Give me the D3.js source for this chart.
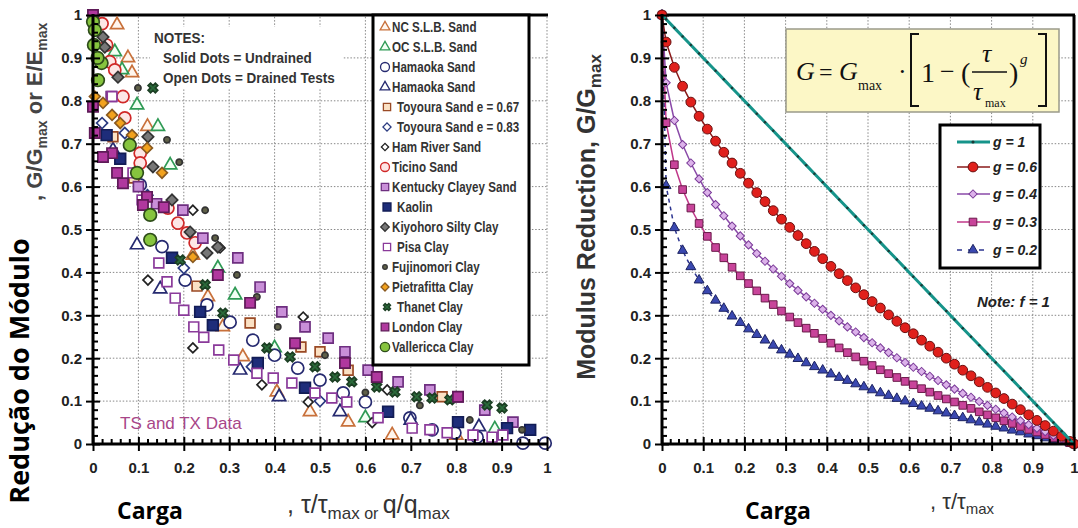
<!DOCTYPE html>
<html><head><meta charset="utf-8">
<script src="https://cdn.jsdelivr.net/npm/d3@7"></script>
<style>body{margin:0;background:#fff}</style>
</head><body>
<svg id="c" width="1078" height="528"></svg>
<script>
// ---------- DATA ----------
const majorTicks = [0,0.1,0.2,0.3,0.4,0.5,0.6,0.7,0.8,0.9,1];
const tickLabels = ["0","0.1","0.2","0.3","0.4","0.5","0.6","0.7","0.8","0.9","1"];
const minorTicks = [0.02,0.04,0.06,0.08,0.12,0.14,0.16,0.18,0.22,0.24,0.26,0.28,0.32,0.34,0.36,0.38,0.42,0.44,0.46,0.48,0.52,0.54,0.56,0.58,0.62,0.64,0.66,0.68,0.72,0.74,0.76,0.78,0.82,0.84,0.86,0.88,0.92,0.94,0.96,0.98];

// Left chart series: [x, y] pairs
const ncSLBSand = [[0.053,0.977],[0.077,0.90],[0.086,0.865],[0.12,0.74],[0.22,0.44],[0.253,0.343],[0.286,0.273],[0.33,0.203],[0.405,0.121],[0.478,0.075],[0.562,0.051],[0.659,0.021],[0.80,0.02]];
const ocSLBSand = [[0.048,0.914],[0.064,0.872],[0.097,0.79],[0.143,0.74],[0.17,0.65],[0.275,0.41],[0.313,0.347],[0.40,0.224],[0.60,0.061],[0.885,0.035]];
const hamaokaCircle = [[0.152,0.46],[0.203,0.382],[0.251,0.324],[0.302,0.284],[0.352,0.242],[0.40,0.207],[0.451,0.177],[0.50,0.149],[0.551,0.119],[0.60,0.098],[0.698,0.061],[0.747,0.033],[0.797,0.026],[0.846,0.016],[0.947,0.002],[0.996,0.002],[0.104,0.604]];
const hamaokaTriangle = [[0.097,0.464],[0.148,0.361],[0.324,0.172],[0.41,0.11],[0.544,0.075],[0.044,0.685],[0.70,0.055],[0.85,0.04]];
const toyoura067 = [[0.229,0.368],[0.346,0.282],[0.458,0.226],[0.562,0.172],[0.044,0.716],[0.09,0.62],[0.769,0.11],[0.50,0.215]];
const toyoura083 = [[0.02,0.748],[0.07,0.725],[0.12,0.58],[0.2,0.41],[0.35,0.18],[0.50,0.10]];
const hamRiver = [[0.121,0.382],[0.22,0.224],[0.28,0.457],[0.22,0.545],[0.372,0.138],[0.463,0.296],[0.474,0.098],[0.615,0.05],[0.648,0.126]];
const ticino = [[0.165,0.55],[0.187,0.515],[0.207,0.492],[0.225,0.469],[0.037,0.891],[0.048,0.872],[0.066,0.81],[0.07,0.76],[0.104,0.678],[0.104,0.655],[0.02,0.98],[0.03,0.93]];
const kentucky = [[0.198,0.545],[0.242,0.48],[0.319,0.434],[0.368,0.366],[0.416,0.308],[0.467,0.273],[0.518,0.247],[0.555,0.215],[0.606,0.172],[0.672,0.145],[0.742,0.126],[0.804,0.11],[0.863,0.079],[0.925,0.051],[0.04,0.81],[0.10,0.6],[0.14,0.56]];
const kaolin = [[0.174,0.434],[0.236,0.308],[0.264,0.277],[0.363,0.189],[0.467,0.131],[0.65,0.075],[0.804,0.051],[0.912,0.037],[0.963,0.033],[0.03,0.72],[0.06,0.665]];
const kiyohoro = [[0.214,0.494],[0.251,0.445],[0.275,0.459],[0.022,0.949],[0.026,0.925],[0.055,0.855],[0.121,0.716],[0.132,0.646],[0.174,0.569]];
const pisa = [[0.145,0.422],[0.163,0.378],[0.181,0.34],[0.20,0.312],[0.222,0.273],[0.244,0.249],[0.277,0.219],[0.31,0.196],[0.361,0.165],[0.397,0.154],[0.438,0.142],[0.489,0.119],[0.526,0.107],[0.559,0.098],[0.628,0.061],[0.703,0.037],[0.742,0.033],[0.78,0.026],[0.837,0.021],[0.879,0.016],[0.903,0.021],[0.042,0.81],[0.088,0.632],[0.108,0.569]];
const fujinomori = [[0.099,0.83],[0.163,0.709],[0.19,0.657],[0.247,0.545],[0.269,0.48],[0.317,0.394],[0.361,0.343],[0.407,0.273],[0.511,0.207],[0.60,0.12],[0.72,0.09],[0.83,0.056],[0.945,0.033]];
const pietrafitta = [[0.004,0.81],[0.022,0.795],[0.042,0.767],[0.06,0.748],[0.086,0.72],[0.119,0.69],[0.152,0.632],[0.22,0.436]];
const thanet = [[0.192,0.429],[0.247,0.371],[0.286,0.305],[0.383,0.224],[0.434,0.203],[0.489,0.18],[0.533,0.156],[0.57,0.145],[0.625,0.133],[0.665,0.121],[0.713,0.11],[0.747,0.107],[0.786,0.103],[0.868,0.091],[0.901,0.084],[0.132,0.83]];
const londonClay = [[0.156,0.552],[0.275,0.394],[0.346,0.329],[0.445,0.235],[0.555,0.189],[0.625,0.156],[0.0,1.0],[0.0,0.786],[0.004,0.725],[0.042,0.678],[0.022,0.669],[0.053,0.632],[0.066,0.608],[0.119,0.576],[0.11,0.557],[0.804,0.11]];
const vallericca = [[0.0,0.984],[0.004,0.965],[0.002,0.93],[0.019,0.888],[0.011,0.848],[0.081,0.697],[0.097,0.632],[0.126,0.534],[0.126,0.476],[0.01,0.9]];

const legendNames = ["NC S.L.B. Sand","OC S.L.B. Sand","Hamaoka Sand","Hamaoka Sand","Toyoura Sand e = 0.67","Toyoura Sand e = 0.83","Ham River Sand","Ticino Sand","Kentucky Clayey Sand","Kaolin","Kiyohoro Silty Clay","Pisa Clay","Fujinomori Clay","Pietrafitta Clay","Thanet Clay","London Clay","Vallericca Clay"];

// Right chart: normalized stress tau/tau_max and G/Gmax for each g
const tauRatio = [0,0.01,0.03,0.05,0.07,0.09,0.11,0.13,0.15,0.17,0.19,0.21,0.23,0.25,0.27,0.29,0.31,0.33,0.35,0.37,0.39,0.41,0.43,0.45,0.47,0.49,0.51,0.53,0.55,0.57,0.59,0.61,0.63,0.65,0.67,0.69,0.71,0.73,0.75,0.77,0.79,0.81,0.83,0.85,0.87,0.89,0.91,0.93,0.95,0.97,0.99,1];
const gEq1 = [1,0.99,0.97,0.95,0.93,0.91,0.89,0.87,0.85,0.83,0.81,0.79,0.77,0.75,0.73,0.71,0.69,0.67,0.65,0.63,0.61,0.59,0.57,0.55,0.53,0.51,0.49,0.47,0.45,0.43,0.41,0.39,0.37,0.35,0.33,0.31,0.29,0.27,0.25,0.23,0.21,0.19,0.17,0.15,0.13,0.11,0.09,0.07,0.05,0.03,0.01,0];
const gEq06 = [1,0.937,0.878,0.834,0.797,0.764,0.734,0.706,0.680,0.655,0.631,0.608,0.586,0.565,0.544,0.524,0.505,0.486,0.467,0.449,0.432,0.414,0.397,0.381,0.364,0.348,0.332,0.317,0.301,0.286,0.271,0.257,0.242,0.228,0.214,0.200,0.186,0.172,0.159,0.145,0.132,0.119,0.106,0.093,0.080,0.068,0.055,0.043,0.030,0.018,0.006,0];
const gEq04 = [1,0.842,0.754,0.698,0.655,0.618,0.586,0.558,0.532,0.508,0.485,0.464,0.444,0.426,0.408,0.391,0.374,0.358,0.343,0.328,0.314,0.300,0.287,0.273,0.261,0.248,0.236,0.224,0.213,0.201,0.190,0.179,0.169,0.158,0.148,0.138,0.128,0.118,0.109,0.099,0.090,0.081,0.072,0.063,0.054,0.045,0.037,0.029,0.020,0.012,0.004,0];
const gEq03 = [1,0.749,0.651,0.593,0.550,0.514,0.484,0.458,0.434,0.412,0.392,0.374,0.357,0.340,0.325,0.310,0.296,0.283,0.270,0.258,0.246,0.235,0.224,0.213,0.203,0.193,0.183,0.173,0.164,0.155,0.146,0.138,0.129,0.121,0.113,0.105,0.098,0.090,0.083,0.075,0.068,0.061,0.054,0.048,0.041,0.034,0.028,0.022,0.015,0.009,0.003,0];
const gEq02 = [1,0.602,0.504,0.451,0.413,0.382,0.357,0.335,0.316,0.298,0.283,0.268,0.255,0.242,0.230,0.219,0.209,0.199,0.189,0.180,0.172,0.163,0.155,0.148,0.140,0.133,0.126,0.119,0.113,0.106,0.100,0.094,0.088,0.083,0.077,0.072,0.066,0.061,0.056,0.051,0.046,0.041,0.037,0.032,0.028,0.023,0.019,0.014,0.010,0.006,0.002,0];
const gLabels = ["g = 1","g = 0.6","g = 0.4","g = 0.3","g = 0.2"];

// ---------- DRAWING ----------
const svg = d3.select("#c");
const tickFont = "'Liberation Sans', Arial, sans-serif";
const xL = d3.scaleLinear().domain([0,1]).range([93,547]);
const yL = d3.scaleLinear().domain([0,1]).range([444,15]);
const xR = d3.scaleLinear().domain([0,1]).range([662,1074]);
const yR = d3.scaleLinear().domain([0,1]).range([444,15]);

function frame(x, y, rightBorder) {
  const g = svg.append("g");
  g.append("g").selectAll("line").data(majorTicks.slice(1)).join("line")
    .attr("x1", d => x(d)).attr("x2", d => x(d)).attr("y1", y(0)).attr("y2", y(1))
    .attr("stroke", "#888").attr("stroke-width", 1).attr("stroke-dasharray", "1.5,1.8");
  g.append("g").selectAll("line").data(majorTicks.slice(1)).join("line")
    .attr("y1", d => y(d)).attr("y2", d => y(d)).attr("x1", x(0)).attr("x2", x(1))
    .attr("stroke", "#888").attr("stroke-width", 1).attr("stroke-dasharray", "1.5,1.8");
  g.append("line").attr("x1", x(0)).attr("x2", x(1) + 1).attr("y1", y(1)).attr("y2", y(1))
    .attr("stroke", "#000").attr("stroke-width", 3);
  if (rightBorder) g.append("line").attr("x1", x(1)).attr("x2", x(1)).attr("y1", y(1)).attr("y2", y(0))
    .attr("stroke", "#000").attr("stroke-width", 3);
  return g;
}

function axes(x, y) {
  const g = svg.append("g");
  g.append("g").attr("transform", `translate(${x(0)},0)`)
    .call(d3.axisRight(y).tickValues(minorTicks).tickSize(5).tickFormat(""))
    .call(a => a.select(".domain").remove());
  g.append("g").attr("transform", `translate(0,${y(0)})`)
    .call(d3.axisTop(x).tickValues(minorTicks).tickSize(5).tickFormat(""))
    .call(a => a.select(".domain").remove());
  g.append("g").attr("transform", `translate(${x(0)},0)`)
    .call(d3.axisRight(y).tickValues(majorTicks).tickSize(7).tickFormat(""))
    .call(a => a.select(".domain").remove());
  g.append("g").attr("transform", `translate(0,${y(0)})`)
    .call(d3.axisTop(x).tickValues(majorTicks).tickSize(7).tickFormat(""))
    .call(a => a.select(".domain").remove());
  g.append("g").attr("transform", `translate(${x(0)},0)`)
    .call(d3.axisLeft(y).tickValues(majorTicks).tickSize(7).tickPadding(4).tickFormat((d,i) => tickLabels[i]))
    .call(a => a.select(".domain").remove());
  g.append("g").attr("transform", `translate(0,${y(0)})`)
    .call(d3.axisBottom(x).tickValues(majorTicks).tickSize(7).tickPadding(11).tickFormat((d,i) => tickLabels[i]))
    .call(a => a.select(".domain").remove());
  g.selectAll(".tick line").attr("stroke", "#000").attr("stroke-width", 2);
  g.selectAll(".tick text").attr("font-family", tickFont).attr("font-weight", "bold")
    .attr("font-size", 15).attr("fill", "#222");
  g.append("line").attr("x1", x(0)).attr("x2", x(0)).attr("y1", y(1) - 1).attr("y2", y(0) + 1)
    .attr("stroke", "#000").attr("stroke-width", 3);
  g.append("line").attr("x1", x(0) - 1).attr("x2", x(1) + 1).attr("y1", y(0)).attr("y2", y(0))
    .attr("stroke", "#000").attr("stroke-width", 3);
}

// condensed text helper (narrow sans look)
function narrowText(parent, x, y, txt, size, sx) {
  return parent.append("text").attr("transform", `translate(${x},${y}) scale(${sx},1)`)
    .attr("font-family", tickFont).attr("font-weight", "bold").attr("font-size", size).attr("fill", "#333").text(txt);
}

// ----- Left chart -----
frame(xL, yL, false);

svg.append("rect").attr("x", 150).attr("y", 27).attr("width", 192).attr("height", 62).attr("fill", "#fff");
const notes = svg.append("g");
narrowText(notes, 154, 43, "NOTES:", 15, 0.9);
narrowText(notes, 163, 63, "Solid Dots = Undrained", 15, 0.9);
narrowText(notes, 163, 83, "Open Dots = Drained Tests", 15, 0.9);

const diamond = d3.symbolSquare;
const specs = [
  {data: ncSLBSand, sym: d3.symbolTriangle, size: 75, fill: "#fff6ee", stroke: "#c8703a"},
  {data: ocSLBSand, sym: d3.symbolTriangle, size: 75, fill: "#f2fff4", stroke: "#2f9a55"},
  {data: hamaokaCircle, sym: d3.symbolCircle, size: 115, fill: "#fff", stroke: "#262a70"},
  {data: hamaokaTriangle, sym: d3.symbolTriangle, size: 75, fill: "#fff", stroke: "#262a70"},
  {data: toyoura067, sym: d3.symbolSquare, size: 95, fill: "#fbe1c4", stroke: "#9a4a25"},
  {data: toyoura083, sym: diamond, size: 60, fill: "#fff", stroke: "#2a3a80", rot: 45},
  {data: hamRiver, sym: diamond, size: 48, fill: "#fff", stroke: "#222", rot: 45},
  {data: ticino, sym: d3.symbolCircle, size: 115, fill: "#fde6e6", stroke: "#d02828"},
  {data: kentucky, sym: d3.symbolSquare, size: 100, fill: "#c98fd8", stroke: "#6e2f80"},
  {data: kaolin, sym: d3.symbolSquare, size: 115, fill: "#1e2d7a", stroke: "#121c55"},
  {data: kiyohoro, sym: diamond, size: 65, fill: "#777", stroke: "#333", rot: 45},
  {data: pisa, sym: d3.symbolSquare, size: 95, fill: "#fff", stroke: "#8a3a9a"},
  {data: fujinomori, sym: d3.symbolCircle, size: 30, fill: "#5f6048", stroke: "#333"},
  {data: pietrafitta, sym: diamond, size: 58, fill: "#f2a21e", stroke: "#8a5a20", rot: 45},
  {data: thanet, sym: d3.symbolCross, size: 58, fill: "#2a6a3a", stroke: "#1c3f24", rot: 45},
  {data: londonClay, sym: d3.symbolSquare, size: 105, fill: "#b0389e", stroke: "#5e1a58"},
  {data: vallericca, sym: d3.symbolCircle, size: 125, fill: "#86c43e", stroke: "#2e4d1a"}
];

const pts = svg.append("g");
specs.forEach(s => {
  pts.append("g").selectAll("path").data(s.data).join("path")
    .attr("d", d3.symbol().type(s.sym).size(s.size))
    .attr("transform", d => `translate(${xL(d[0])},${yL(d[1])})` + (s.rot ? ` rotate(${s.rot})` : ""))
    .attr("fill", s.fill).attr("stroke", s.stroke).attr("stroke-width", 1.7);
});

axes(xL, yL);

svg.append("text").attr("x", 120).attr("y", 429).attr("font-family", tickFont).attr("font-size", 17)
  .attr("fill", "#a84688").text("TS and TX Data");

// left legend
const lg = svg.append("g");
lg.append("rect").attr("x", 373).attr("y", 15).attr("width", 156).attr("height", 350)
  .attr("fill", "#fff").attr("stroke", "#000").attr("stroke-width", 3);
const legendY = d3.scaleLinear().domain([0, 1]).range([27, 47]);
specs.forEach((s, i) => {
  const yy = legendY(i);
  const shifted = [4,5,9,11,14].includes(i);
  lg.append("path").attr("d", d3.symbol().type(s.sym).size(s.size * 0.55))
    .attr("transform", `translate(${shifted ? 387 : 385},${yy})` + (s.rot ? ` rotate(${s.rot})` : ""))
    .attr("fill", s.fill).attr("stroke", s.stroke).attr("stroke-width", 1.3);
  narrowText(lg, shifted ? 397 : 392, yy + 5, legendNames[i], 14, 0.83);
});

// left axis titles
const yt = svg.append("g");
yt.append("text").attr("transform", "translate(29,371) rotate(-90)").attr("text-anchor", "middle")
  .attr("font-family", "'Open Sans','Noto Sans',sans-serif").attr("font-weight", "bold").attr("font-size", 27)
  .attr("fill", "#000").text("Redução do Módulo");
const yt2 = yt.append("text").attr("transform", "translate(42,201) rotate(-90)")
  .attr("font-family", tickFont).attr("font-weight", "bold").attr("font-size", 22).attr("fill", "#444");
yt2.append("tspan").text(", G/G");
yt2.append("tspan").attr("font-size", 14).attr("dy", 5).text("max");
yt2.append("tspan").attr("dy", -5).text(" or E/E");
yt2.append("tspan").attr("font-size", 14).attr("dy", 5).text("max");

svg.append("text").attr("x", 117).attr("y", 519).attr("font-family", "'Open Sans','Noto Sans',sans-serif")
  .attr("font-weight", "bold").attr("font-size", 23).attr("fill", "#000").text("Carga");
const xt = svg.append("text").attr("x", 287).attr("y", 513).attr("font-family", tickFont).attr("font-size", 25).attr("fill", "#333");
xt.append("tspan").text(", τ/τ");
xt.append("tspan").attr("font-size", 17).attr("dy", 6).text("max");
xt.append("tspan").attr("font-size", 16).attr("dy", 0).text(" or ");
xt.append("tspan").attr("dy", -6).text("q/q");
xt.append("tspan").attr("font-size", 17).attr("dy", 6).text("max");

// ----- Right chart -----
frame(xR, yR, true);

const curves = [
  {vals: gEq1, line: "#16948a", lw: 3, dash: null, sym: d3.symbolCircle, size: 5, fill: "#1b3a36", stroke: "none"},
  {vals: gEq06, line: "#8a1a1a", lw: 1.5, dash: null, sym: d3.symbolCircle, size: 75, fill: "#e0201c", stroke: "#6a1010"},
  {vals: gEq04, line: "#8a4aa8", lw: 1.5, dash: null, sym: d3.symbolSquare, size: 34, fill: "#dcb2ea", stroke: "#7a3a98", rot: 45},
  {vals: gEq03, line: "#c0388a", lw: 1.5, dash: null, sym: d3.symbolSquare, size: 58, fill: "#c8449a", stroke: "#6a1a4a"},
  {vals: gEq02, line: "#2c3490", lw: 1.5, dash: "4,4", sym: d3.symbolTriangle, size: 42, fill: "#3a48b0", stroke: "#1c2260"}
];
const cg = svg.append("g");
curves.slice().reverse().forEach(c => {
  const pairs = tauRatio.map((t, i) => [t, c.vals[i]]);
  cg.append("path").datum(pairs)
    .attr("d", d3.line().x(d => xR(d[0])).y(d => yR(d[1])))
    .attr("fill", "none").attr("stroke", c.line).attr("stroke-width", c.lw)
    .attr("stroke-dasharray", c.dash);
  cg.append("g").selectAll("path").data(pairs).join("path")
    .attr("d", d3.symbol().type(c.sym).size(c.size))
    .attr("transform", d => `translate(${xR(d[0])},${yR(d[1])})` + (c.rot ? ` rotate(${c.rot})` : ""))
    .attr("fill", c.fill).attr("stroke", c.stroke).attr("stroke-width", 1);
});

axes(xR, yR);

// formula box
const fb = svg.append("g");
fb.append("rect").attr("x", 786).attr("y", 29).attr("width", 273).attr("height", 83)
  .attr("fill", "#fcf7c6").attr("stroke", "#9a9a8a").attr("stroke-width", 1.5);
const serif = "'Liberation Serif','Times New Roman',serif";
function ft(x, y, txt, size, italic) {
  fb.append("text").attr("x", x).attr("y", y).attr("font-family", serif).attr("font-size", size)
    .attr("font-style", italic ? "italic" : "normal").attr("fill", "#111").text(txt);
}
ft(796, 80, "G", 26, true);
ft(819, 80, "=", 24, false);
ft(839, 80, "G", 26, true);
ft(858, 90, "max", 14, false);
ft(898, 80, "·", 26, false);
fb.append("path").attr("d", "M919,34 H911 V106 H919").attr("fill", "none").attr("stroke", "#111").attr("stroke-width", 2);
ft(921, 82, "1", 28, false);
ft(940, 80, "−", 26, false);
ft(961, 82, "(", 28, false);
ft(982, 62, "τ", 26, true);
fb.append("line").attr("x1", 972).attr("x2", 1007).attr("y1", 72).attr("y2", 72).attr("stroke", "#111").attr("stroke-width", 1.3);
ft(973, 100, "τ", 26, true);
ft(985, 107, "max", 12, false);
ft(1009, 82, ")", 28, false);
ft(1020, 64, "g", 15, true);
fb.append("path").attr("d", "M1038,34 H1046 V106 H1038").attr("fill", "none").attr("stroke", "#111").attr("stroke-width", 2);

// right legend
const rl = svg.append("g");
rl.append("rect").attr("x", 940).attr("y", 125).attr("width", 100).attr("height", 143)
  .attr("fill", "#fff").attr("stroke", "#000").attr("stroke-width", 3);
const rLegY = [142, 167, 194, 222, 250];
curves.forEach((c, i) => {
  const yy = rLegY[i];
  rl.append("line").attr("x1", 957).attr("x2", 990).attr("y1", yy).attr("y2", yy)
    .attr("stroke", c.line).attr("stroke-width", c.lw).attr("stroke-dasharray", c.dash ? "5,6" : null);
  rl.append("path").attr("d", d3.symbol().type(c.sym).size(i === 0 ? 8 : c.size))
    .attr("transform", `translate(973,${yy})` + (c.rot ? ` rotate(${c.rot})` : ""))
    .attr("fill", c.fill).attr("stroke", c.stroke).attr("stroke-width", 1);
  rl.append("text").attr("x", 993).attr("y", yy + 5).attr("font-family", tickFont)
    .attr("font-weight", "bold").attr("font-style", "italic").attr("font-size", 14).attr("fill", "#222")
    .text(gLabels[i]);
});
svg.append("text").attr("x", 977).attr("y", 307).attr("font-family", tickFont).attr("font-weight", "bold")
  .attr("font-style", "italic").attr("font-size", 15).attr("fill", "#222").text("Note:  f = 1");

// right axis titles
const ry = svg.append("text").attr("transform", "translate(595,217) rotate(-90)").attr("text-anchor", "middle")
  .attr("font-family", tickFont).attr("font-weight", "bold").attr("font-size", 25).attr("fill", "#333");
ry.append("tspan").text("Modulus Reduction, G/G");
ry.append("tspan").attr("font-size", 17).attr("dy", 6).text("max");

svg.append("text").attr("x", 745).attr("y", 519).attr("font-family", "'Open Sans','Noto Sans',sans-serif")
  .attr("font-weight", "bold").attr("font-size", 23).attr("fill", "#000").text("Carga");
const rx = svg.append("text").attr("x", 930).attr("y", 509).attr("font-family", tickFont).attr("font-size", 22).attr("fill", "#333");
rx.append("tspan").text(", τ/τ");
rx.append("tspan").attr("font-size", 15).attr("dy", 5).text("max");
</script>
</body></html>
